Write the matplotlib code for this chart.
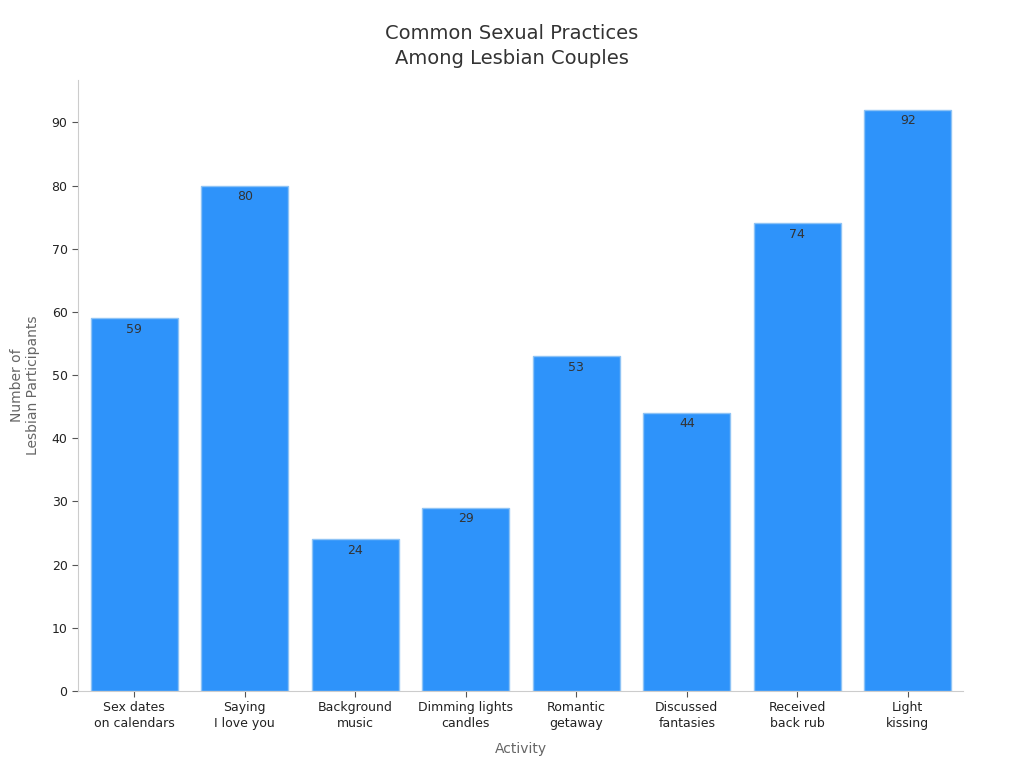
import matplotlib
matplotlib.use("Agg")
import matplotlib.pyplot as plt

categories = ["Sex dates\non calendars", "Saying\nI love you", "Background\nmusic",
              "Dimming lights\ncandles", "Romantic\ngetaway", "Discussed\nfantasies",
              "Received\nback rub", "Light\nkissing"]
values = [59, 80, 24, 29, 53, 44, 74, 92]

plt.rcParams['font.family'] = ['DejaVu Sans']
fig = plt.figure(figsize=(10.24, 7.68), dpi=100)
ax = fig.add_axes([78/1024, 1-691/768, (963-78)/1024, (691-80)/768])

x = list(range(len(values)))
bars = ax.bar(x, values, width=0.79, color="#2E93FA", edgecolor="#8EC3F5", linewidth=1)
for xi, v in zip(x, values):
    ax.text(xi, v - 0.7, str(v), ha="center", va="top", fontsize=9, color="#333333")

ax.set_xlim(-0.51, 7.5)
ax.set_ylim(0, 96.7)
ax.set_yticks(range(0, 91, 10))
ax.set_xticks(x)
ax.set_xticklabels(categories, fontsize=9, color="#222222", linespacing=1.3)
ax.tick_params(axis='y', labelsize=9, colors="#222222", length=4, color="#555555")
ax.tick_params(axis='x', length=4, color="#555555", pad=3)
for s in ["top", "right"]:
    ax.spines[s].set_visible(False)
for s in ["left", "bottom"]:
    ax.spines[s].set_color("#cccccc")

ax.set_xlabel("Activity", fontsize=10, color="#666666", labelpad=9)
ax.set_ylabel("Number of\nLesbian Participants", fontsize=10, color="#666666", labelpad=8)
fig.text(0.5, 1 - 46/768, "Common Sexual Practices\nAmong Lesbian Couples", fontsize=14,
         color="#333333", ha="center", va="center", linespacing=1.45)

fig.savefig("out.png", dpi=100)
